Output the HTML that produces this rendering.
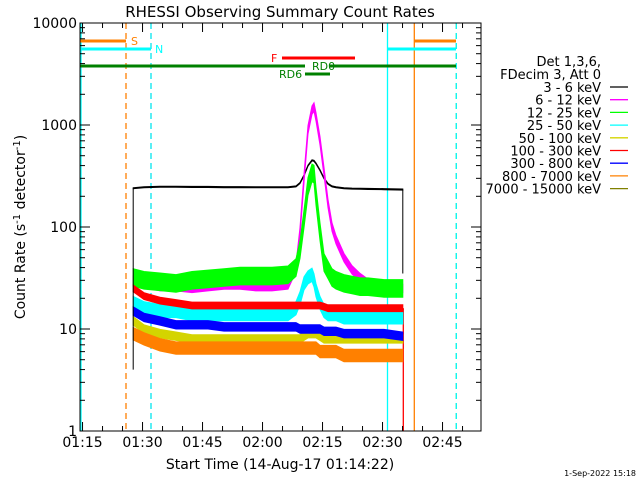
<!DOCTYPE html>
<html><head><meta charset="utf-8">
<style>
html,body{margin:0;padding:0;background:#fff;}
svg{display:block;font-family:"DejaVu Sans","Liberation Sans",sans-serif;}
</style></head>
<body>
<svg id="chart" width="640" height="480" viewBox="0 0 640 480" xmlns="http://www.w3.org/2000/svg">
<rect width="640" height="480" fill="#fff"/>
<text x="280" y="17" font-size="15" text-anchor="middle">RHESSI Observing Summary Count Rates</text>
<g id="marks"></g>
<g id="axes"></g>
<text x="280" y="469" font-size="14" text-anchor="middle">Start Time (14-Aug-17 01:14:22)</text>
<text transform="translate(25,227) rotate(-90)" font-size="14" text-anchor="middle">Count Rate (s<tspan font-size="10" dy="-5">-1</tspan><tspan dy="5"> detector</tspan><tspan font-size="10" dy="-5">-1</tspan><tspan dy="5">)</tspan></text>
<text x="636" y="476" font-size="8" text-anchor="end">1-Sep-2022 15:18</text>
<g id="legend" font-size="13"></g>
</svg>
<script>
const times = [13.3,16,20,24,28,32,36,40,44,48,52,54,55,56,57,58,58.5,59,60,61,62,63,64,66,68,70,72,76,80.7];
const black = [240,245,248,248,247,247,246,246,245,245,245,250,270,320,400,450,445,420,360,300,265,250,245,240,238,237,236,235,233];
const magenta = [30,28,26,26,25,26,27,27,26,26,27,40,90,300,900,1400,1500,1200,700,350,170,100,75,50,38,32,28,26,25];
const green = [32,30,29,28,30,31,32,33,33,33,34,40,60,120,250,340,330,200,90,45,38,32,30,28,27,26,26,25,25];
const cyan = [18,16,15,15,14,14,14,14,14,14,14,16,20,28,32,34,30,24,18,15,14,14,14,13,13,13,13,13,13];
const yellow = [12,10,9,8.5,8,8,8,8,8,8,8,8,8,8.5,9,9,9,9,8.5,8,8,8,8,8,8,8,8,8,8];
const red = [25,21,19,18,17,17,17,17,17,17,17,17,17,17,17,17,17,17,17,16.5,16,16,16,16,16,16,16,16,16];
const blue = [15,13,12,11,11,11,10.5,10.5,10.5,10.5,10.5,10.5,10,10,10,10,10,10,10,9.5,9.5,9.5,9.5,9,9,9,9,9,8.5];
const orange = [9,8,7,6.5,6.5,6.5,6.5,6.5,6.5,6.5,6.5,6.5,6.5,6.5,6.5,6.5,6.5,6.5,6,6,6,6,6,5.5,5.5,5.5,5.5,5.5,5.5];
const legendLabels = ["3 - 6 keV","6 - 12 keV","12 - 25 keV","25 - 50 keV","50 - 100 keV","100 - 300 keV","300 - 800 keV","800 - 7000 keV","7000 - 15000 keV"];
const yTickValues = [1,10,100,1000,10000];
const yTickLabels = ["1","10","100","1000","10000"];
const xTickLabels = ["01:15","01:30","01:45","02:00","02:15","02:30","02:45"];

const NS="http://www.w3.org/2000/svg";
const L=80,R=481,T=23,B=431;
function x(m){return L+4*m;}
function y(v){return B-102*Math.log10(v);}
function mk(tag,attrs,parent){const e=document.createElementNS(NS,tag);for(const k in attrs)e.setAttribute(k,attrs[k]);parent.appendChild(e);return e;}
const marks=document.getElementById('marks'),axes=document.getElementById('axes'),legend=document.getElementById('legend');

function vline(xx,col,dash,name,y1){const e=mk('line',{x1:xx,x2:xx,y1:(y1||T),y2:B,stroke:col,'stroke-width':1.3},marks);if(dash)e.setAttribute('stroke-dasharray','6,4');

}
vline(81,'#00ffff',false,'saa-start-line');
vline(126,'#ff8000',true,'orange-dashed-line');
vline(151,'#00e5ee',true,'cyan-dashed-line');
vline(387.5,'#00ffff',false,'cyan-line-2');
vline(403.3,'#ff0000',false,'red-line',y(16));
vline(414.3,'#ff8000',false,'orange-line-2');
vline(456.3,'#ff8000',true,'orange-dashed-line-2');
vline(456.3,'#00ffff',true,'cyan-dashed-line-2');

function hbar(x1,x2,yy,col,w,name){const e=mk('line',{x1:x1,x2:x2,y1:yy,y2:yy,stroke:col,'stroke-width':w},marks);

}
function lbl(tx,xx,yy,col,name){const e=mk('text',{x:xx,y:yy,fill:col,'font-size':11},marks);e.textContent=tx;

}
hbar(80,126,41,'#ff8000',3,'saa-bar-left');lbl('S',131,45,'#ff8000','saa-label');
hbar(414,456,41,'#ff8000',3,'saa-bar-right');
hbar(80,151,49,'#00ffff',3,'night-bar-left');lbl('N',155,53,'#00ffff','night-label');
hbar(387,456,49,'#00ffff',3,'night-bar-right');
hbar(80,305,66,'#008000',3,'rd0-bar-left');hbar(330,456,66,'#008000',3,'rd0-bar-right');
lbl('RD0',312,70,'#008000','rd0-label');
hbar(282,355,58,'#ff0000',3,'flare-bar');lbl('F',271,62,'#ff0000','flare-label');
hbar(305,330,74,'#008000',3,'rd6-bar');lbl('RD6',279,78,'#008000','rd6-label');

const series=[[black,'#000000',1.012,'series-3-6kev'],[magenta,'#ff00ff',1.1,'series-6-12kev'],[green,'#00ff00',1.22,'series-12-25kev'],[cyan,'#00ffff',1.16,'series-25-50kev'],[yellow,'#d4d400',1.1,'series-50-100kev'],[red,'#ff0000',1.08,'series-100-300kev'],[blue,'#0000ff',1.1,'series-300-800kev'],[orange,'#ff8000',1.15,'series-800-7000kev']];
series.forEach(([vals,col,sp,name])=>{
  let up=[],dn=[];
  vals.forEach((v,i)=>{up.push(x(times[i]).toFixed(1)+','+y(v*sp).toFixed(1));dn.push(x(times[i]).toFixed(1)+','+y(v/sp).toFixed(1));});
  const g=mk('g',{},marks);
  
  
  mk('polygon',{points:up.concat(dn.reverse()).join(' '),fill:col,stroke:col,'stroke-width':1},g);
  let d=vals.map((v,i)=>(i?'L':'M')+x(times[i]).toFixed(1)+','+y(v).toFixed(1)).join('');
  mk('path',{d:d,fill:'none',stroke:col,'stroke-width':1},g);
});
mk('line',{x1:x(times[0]),x2:x(times[0]),y1:y(4),y2:y(black[0]),stroke:'#000'},marks);
mk('line',{x1:x(times[times.length-1]),x2:x(times[times.length-1]),y1:y(black[black.length-1]),y2:y(35),stroke:'#000'},marks);

mk('rect',{x:L,y:T,width:R-L,height:B-T,fill:'none',stroke:'#000','stroke-width':1},axes);
yTickValues.forEach((v,i)=>{
  const yy=y(v);
  mk('line',{x1:L,x2:L+10,y1:yy,y2:yy,stroke:'#000'},axes);
  mk('line',{x1:R-10,x2:R,y1:yy,y2:yy,stroke:'#000'},axes);
  const t=mk('text',{x:L-3,y:yy+5,'font-size':14,'text-anchor':'end'},axes);t.textContent=yTickLabels[i];
  
  
  if(i<yTickValues.length-1)for(let k=2;k<10;k++){const ym=y(v*k);
    mk('line',{x1:L,x2:L+5,y1:ym,y2:ym,stroke:'#000'},axes);
    mk('line',{x1:R-5,x2:R,y1:ym,y2:ym,stroke:'#000'},axes);}
});
const m0=38/60;
for(let k=0;k<20;k++){const m=m0+5*k;const xx=x(m);if(xx>R)break;const maj=k%3===0;const len=maj?9:5;
  mk('line',{x1:xx,x2:xx,y1:B,y2:B-len,stroke:'#000'},axes);
  mk('line',{x1:xx,x2:xx,y1:T,y2:T+len,stroke:'#000'},axes);
  if(maj){const t=mk('text',{x:xx,y:B+16,'font-size':14,'text-anchor':'middle'},axes);t.textContent=xTickLabels[k/3];
  
  }
}

const lcols=['#000000','#ff00ff','#00ff00','#00ffff','#d4d400','#ff0000','#0000ff','#ff8000','#808000'];
function ltxt(s,yy,name){const t=mk('text',{x:601,y:yy,'text-anchor':'end'},legend);t.textContent=s;

}
ltxt('Det 1,3,6,',66,'legend-detectors');ltxt('FDecim 3, Att 0',79,'legend-decim');
legendLabels.forEach((s,i)=>{const yy=92+12.7*i;ltxt(s,yy,'legend-entry');
  const l=mk('line',{x1:610,x2:628,y1:yy-5,y2:yy-5,stroke:lcols[i],'stroke-width':1.3},legend);
  
  });
</script>
</body></html>
